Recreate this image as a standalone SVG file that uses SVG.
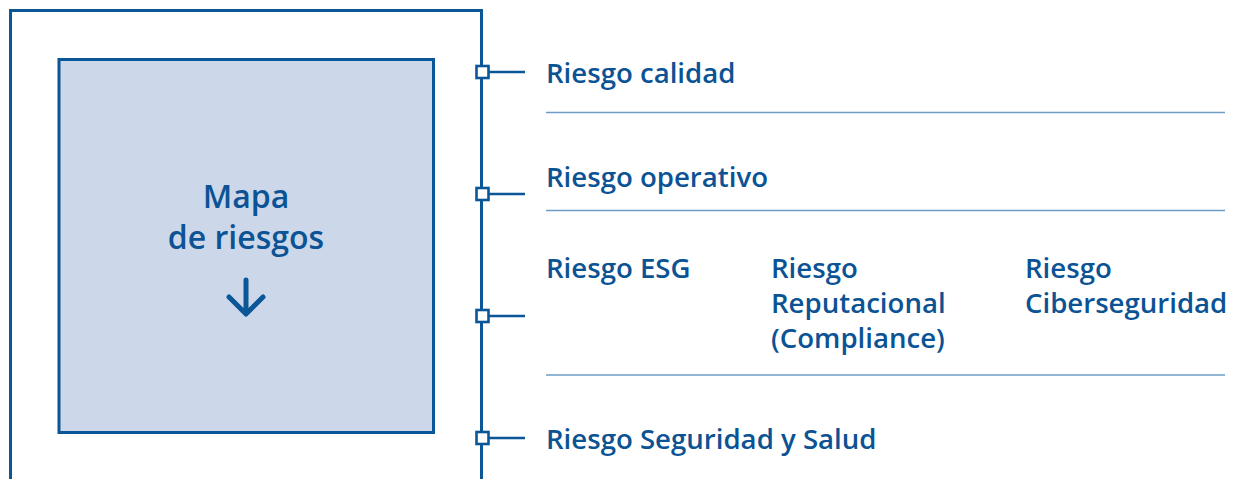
<svg xmlns="http://www.w3.org/2000/svg" width="1235" height="479" viewBox="0 0 1235 479">
<style>
.frame{fill:none;stroke:#0a5696;stroke-width:3}
.box{fill:#cdd7ea;stroke:#0a5696;stroke-width:3}
.sq{fill:#fff;stroke:#0a5696;stroke-width:2.6}
.tick{stroke:#0a5696;stroke-width:2.6;fill:none}
.sep{stroke:#6f9cc6;stroke-width:1.5;fill:none}
.t{font-family:"Open Sans","Liberation Sans",sans-serif;font-weight:600;font-size:27.6px;fill:#0b5394}
.m{font-size:32px}
.tc{text-anchor:middle}
</style>
<rect width="1235" height="479" fill="#fff"/>
<g id="frame">
<path class="frame" d="M10.5,479 V10.5 H481.5 V479"/>
</g>
<g id="mapa">
<rect class="box" x="59" y="59.5" width="374.5" height="373"/>
<text class="t m tc" x="246" y="208">Mapa</text>
<text class="t m tc" x="246" y="249">de riesgos</text>
<path d="M246,280 V313 M229,297 L246,314 L263,297" fill="none" stroke="#0a5696" stroke-width="5" stroke-linecap="round" stroke-linejoin="round"/>
</g>
<g id="connectors">
<line class="tick" x1="489" y1="72" x2="525" y2="72"/>
<line class="tick" x1="489" y1="194" x2="525" y2="194"/>
<line class="tick" x1="489" y1="316" x2="525" y2="316"/>
<line class="tick" x1="489" y1="438" x2="525" y2="438"/>
<rect class="sq" x="476.5" y="66" width="12" height="12"/>
<rect class="sq" x="476.5" y="188" width="12" height="12"/>
<rect class="sq" x="476.5" y="310" width="12" height="12"/>
<rect class="sq" x="476.5" y="432" width="12" height="12"/>
</g>
<g id="separators">
<line class="sep" x1="546" y1="112.5" x2="1225" y2="112.5"/>
<line class="sep" x1="546" y1="210.5" x2="1225" y2="210.5"/>
<line class="sep" x1="546" y1="375" x2="1225" y2="375"/>
</g>
<g id="calidad"><text class="t" x="546" y="83">Riesgo calidad</text></g>
<g id="operativo"><text class="t" x="546" y="187">Riesgo operativo</text></g>
<g id="esg"><text class="t" x="546" y="278">Riesgo ESG</text></g>
<g id="reputacional"><text class="t" x="771" y="278">Riesgo</text><text class="t" x="771" y="313">Reputacional</text><text class="t" x="771" y="348">(Compliance)</text></g>
<g id="ciber"><text class="t" x="1025" y="278">Riesgo</text><text class="t" x="1025" y="313">Ciberseguridad</text></g>
<g id="seguridad"><text class="t" x="546" y="449">Riesgo Seguridad y Salud</text></g>
</svg>
